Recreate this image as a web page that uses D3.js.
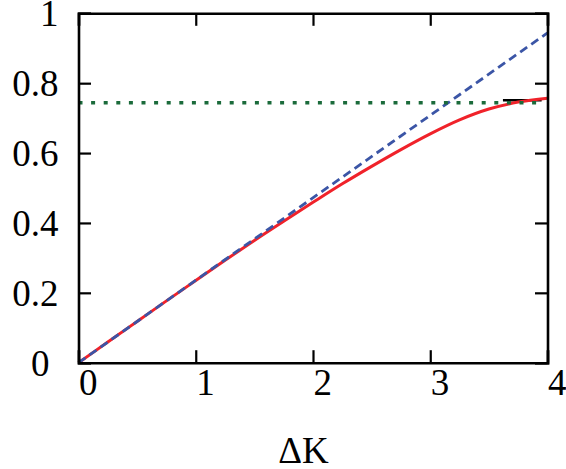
<!DOCTYPE html>
<html><head><meta charset="utf-8">
<script src="https://cdn.jsdelivr.net/npm/d3@7"></script>
<style>body{margin:0;background:#fff}svg{display:block}</style>
</head><body>
<svg id="c" width="566" height="469"></svg>
<script>
const xTicks = [0, 1, 2, 3, 4];
const yTicks = [0, 0.2, 0.4, 0.6, 0.8, 1];
const xTickLabels = ["0", "1", "2", "3", "4"];
const yTickLabels = ["0", "0.2", "0.4", "0.6", "0.8", "1"];
const xLabel = "ΔK";

const redX = [0, 0.25, 0.5, 0.75, 1, 1.25, 1.5, 1.75, 2, 2.25, 2.5, 2.75, 3, 3.25, 3.5, 3.75, 4];
const redY = [0, 0.059, 0.118, 0.177, 0.235, 0.293, 0.350, 0.405, 0.459, 0.512, 0.562, 0.610, 0.655, 0.695, 0.726, 0.746, 0.757];
const blueX = [0, 4];
const blueY = [0, 0.944];
const greenX = [0, 3.95];
const greenY = [0.744, 0.744];
const blackX = [3.62, 3.95];
const blackY = [0.751, 0.751];

const FONT = '"Liberation Serif"';
const svg = d3.select("#c");
const L = 78.5, R = 547.5, T = 13.3, B = 362.7;
const x = d3.scaleLinear().domain([0, 4]).range([L, R]);
const y = d3.scaleLinear().domain([0, 1]).range([B, T]);

const line = d3.line().x(d => x(d[0])).y(d => y(d[1]));
const zip = (a, b) => a.map((v, i) => [v, b[i]]);

svg.append("path").datum(zip(blackX, blackY)).attr("d", line)
  .attr("fill", "none").attr("stroke", "#000").attr("stroke-width", 2.4);
svg.append("path").datum(zip(redX, redY)).attr("d", d3.line().x(d => x(d[0])).y(d => y(d[1])).curve(d3.curveMonotoneX))
  .attr("fill", "none").attr("stroke", "#f0222a").attr("stroke-width", 3);
svg.append("path").datum(zip(blueX, blueY)).attr("d", line)
  .attr("fill", "none").attr("stroke", "#3b55a6").attr("stroke-width", 2.8)
  .attr("stroke-dasharray", "8.5,5");
svg.append("path").datum(zip(greenX, greenY)).attr("d", line)
  .attr("fill", "none").attr("stroke", "#1b6b3b").attr("stroke-width", 3.3)
  .attr("stroke-dasharray", "4,8.6");

const tl = 12.5;
const axB = svg.append("g").attr("transform", `translate(0,${B})`)
  .call(d3.axisBottom(x).tickValues(xTicks).tickSize(-tl).tickFormat((d, i) => xTickLabels[i]));
const axT = svg.append("g").attr("transform", `translate(0,${T})`)
  .call(d3.axisTop(x).tickValues(xTicks).tickSize(-tl).tickFormat(""));
const axL = svg.append("g").attr("transform", `translate(${L},0)`)
  .call(d3.axisLeft(y).tickValues(yTicks).tickSize(-tl).tickFormat((d, i) => yTickLabels[i]));
const axR = svg.append("g").attr("transform", `translate(${R},0)`)
  .call(d3.axisRight(y).tickValues(yTicks).tickSize(-tl).tickFormat(""));

[axB, axT, axL, axR].forEach(g => {
  g.attr("font-family", null).attr("font-size", null);
  g.select(".domain").attr("stroke", "#000").attr("stroke-width", 2.6);
  g.selectAll(".tick line").attr("stroke", "#000").attr("stroke-width", 2.2);
  g.selectAll("text").style("font-family", FONT).style("font-size", "37px").attr("fill", "#000");
});
axB.selectAll(".tick text").attr("text-anchor", "start").attr("y", 32).attr("dy", 0);
axL.selectAll(".tick text").attr("x", d => d === 0 ? -29 : -20).attr("dy", "0.34em");

svg.append("text").attr("x", 303.5).attr("y", 463).attr("text-anchor", "middle")
  .style("font-family", FONT).style("font-size", "37px").attr("fill", "#000").text(xLabel);
</script>
</body></html>
